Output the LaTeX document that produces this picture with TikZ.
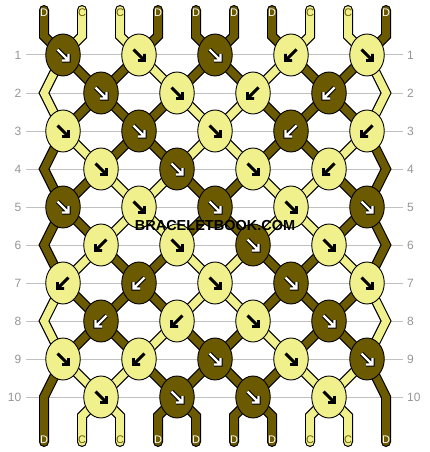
\documentclass[tikz,border=0pt]{standalone}
\usepackage{fontspec}
\usepackage{pdfrender}
\setmainfont{Liberation Sans}
\usetikzlibrary{shapes.geometric}
\definecolor{D}{RGB}{107,90,0}
\definecolor{C}{RGB}{240,240,140}
\definecolor{rowgray}{RGB}{192,192,192}
\definecolor{numgray}{RGB}{150,150,150}
\definecolor{wmgray}{RGB}{60,60,60}
\newcommand\strand[4]{%
  \draw[strandout] (#2,10) -- (#2,36) \foreach \xx [count=\rr] in {#3}{ -- (\xx,{55+38*(\rr-1)}) } -- (#4,416) -- (#4,442);
  \draw[strandin,draw=#1] (#2,10) -- (#2,36) \foreach \xx [count=\rr] in {#3}{ -- (\xx,{55+38*(\rr-1)}) } -- (#4,416) -- (#4,442);
}
\begin{document}
\begin{tikzpicture}[x=1pt,y=-1pt,
  strandout/.style={draw=black,line width=10pt,line cap=round,line join=miter},
  strandin/.style={line width=7.6pt,line cap=round,line join=miter},
  knot/.style={ellipse,draw=black,line width=0.9pt,minimum width=34.5pt,minimum height=42pt,inner sep=0pt},
  rownum/.style={text=numgray,font=\fontsize{12}{12}\selectfont,inner sep=0pt},
  endlab/.style={font=\fontsize{11}{11}\selectfont,inner sep=0pt},
  wmtext/.style={font=\bfseries\fontsize{14.5}{14.5}\selectfont,inner sep=0pt},
  arrowout/.style={black,line width=4.4pt,line cap=square,line join=miter},
  arrowin/.style={white,line width=2.2pt,line cap=square,line join=miter},
  arrowplain/.style={black,line width=2.9pt,line cap=butt,line join=miter}
  ]
\fill[white] (0,0) rectangle (430,452);
\useasboundingbox (0,0) rectangle (430,452);
% row guide lines and numbers
\foreach \r in {1,...,10}{
  \pgfmathsetmacro\yy{55+38*(\r-1)}
  \draw[rowgray,line width=1pt] (26,\yy) -- (403,\yy);
  \node[rownum,anchor=east] (nl\r) at (21.5,\yy) {\r};
  \node[rownum,anchor=west] (nr\r) at (407,\yy) {\r};
}
% strings
\strand{D}{44}{63,101,139,177,215,253,291,329,367,386}{386}
\strand{C}{82}{63,44,63,101,139,177,215,253,291,329}{348}
\strand{C}{120}{139,177,215,253,291,329,367,386,367,329}{310}
\strand{D}{158}{139,101,63,44,63,101,139,177,215,253}{272}
\strand{D}{196}{215,253,291,329,367,386,367,329,291,253}{234}
\strand{D}{234}{215,177,139,101,63,44,63,101,139,177}{196}
\strand{D}{272}{291,329,367,386,367,329,291,253,215,177}{158}
\strand{C}{310}{291,253,215,177,139,101,63,44,63,101}{120}
\strand{C}{348}{367,386,367,329,291,253,215,177,139,101}{82}
\strand{D}{386}{367,329,291,253,215,177,139,101,63,44}{44}
% knots
\foreach \r/\lst in {
 1/{D/R,C/R,D/R,C/L,C/R},
 2/{D/R,C/R,C/L,D/L},
 3/{C/R,D/R,C/R,D/L,C/L},
 4/{C/R,D/R,C/R,C/L},
 5/{D/R,C/R,D/R,C/R,D/R},
 6/{C/L,C/R,D/R,C/R},
 7/{C/L,D/L,C/R,D/R,C/R},
 8/{D/L,C/L,C/R,D/R},
 9/{C/R,C/L,D/R,C/R,D/R},
 10/{C/R,D/R,D/R,C/R}}{
  \foreach \kc/\dir [count=\j from 0] in \lst {
    \pgfmathsetmacro\kx{mod(\r,2)==1 ? 63+76*\j : 101+76*\j}
    \pgfmathsetmacro\ky{55+38*(\r-1)}
    \node[knot,fill=\kc] (k\r-\j) at (\kx,\ky) {};
    \if\dir R\def\ax{5.5}\def\bx{-5.5}\def\cx{-1}\else\def\ax{-5.5}\def\bx{5.5}\def\cx{1}\fi
    \if\kc D
      \draw[arrowout,shift={(k\r-\j.center)}] (\bx,-5.5) -- (\ax,5.5) (\ax,-1) -- (\ax,5.5) -- (\cx,5.5);
      \draw[arrowin,shift={(k\r-\j.center)}] (\bx,-5.5) -- (\ax,5.5) (\ax,-1) -- (\ax,5.5) -- (\cx,5.5);
    \else
      \draw[arrowplain,shift={(k\r-\j.center)}] (\bx,-5.5) -- (\ax,5.5) (\ax,-1) -- (\ax,5.5) -- (\cx,5.5);
    \fi
  }
}
% end labels
\foreach \lb [count=\i from 0] in {D,C,C,D,D,D,D,C,C,D}{
  \pgfmathsetmacro\lx{44+38*\i}
  \if\lb D\def\lc{white}\else\def\lc{D}\fi
  \node[endlab,text=\lc] (top\i) at (\lx,12.5) {\lb};
  \node[endlab,text=\lc] (bot\i) at (\lx,439.5) {\lb};
}
% watermark
\node[wmtext] (wm) at (215,226) {\textpdfrender{TextRenderingMode=FillStroke,LineWidth=0.9,StrokeColor=white,FillColor=wmgray}{BRACELETBOOK.COM}};
\end{tikzpicture}
\end{document}
